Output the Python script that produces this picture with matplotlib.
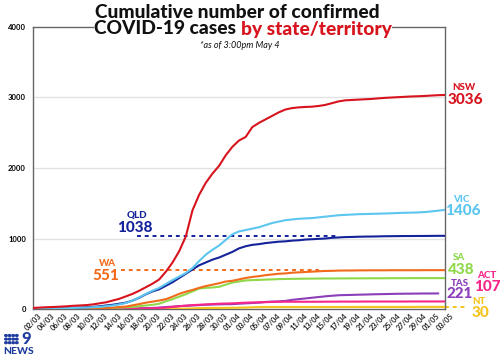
import numpy as np
import matplotlib
matplotlib.use("Agg")
import matplotlib.pyplot as plt
from matplotlib.patches import Circle

# ---- data (day 0 = 02/03 ... day 62 = 03/05) ----
tick_labels = ["02/03", "04/03", "06/03", "08/03", "10/03", "12/03", "14/03", "16/03",
               "18/03", "20/03", "22/03", "24/03", "26/03", "28/03", "30/03", "01/04",
               "03/04", "05/04", "07/04", "09/04", "11/04", "13/04", "15/04", "17/04",
               "19/04", "21/04", "23/04", "25/04", "27/04", "29/04", "01/05", "03/05"]

nsw = [15, 20, 25, 28, 33, 38, 45, 50, 55, 65, 80, 95, 120, 145, 180, 215, 260, 310, 360, 420,
       530, 660, 820, 1030, 1400, 1620, 1790, 1920, 2030, 2180, 2300, 2390, 2440, 2580, 2640,
       2690, 2740, 2790, 2830, 2850, 2860, 2866, 2870, 2880, 2895, 2920, 2945, 2960, 2965, 2970,
       2975, 2980, 2988, 2995, 3000, 3005, 3010, 3015, 3018, 3022, 3028, 3033, 3036]
vic = [9, 10, 10, 11, 11, 12, 15, 18, 21, 25, 30, 40, 50, 65, 85, 120, 165, 215, 260, 300,
       355, 410, 460, 510, 580, 680, 770, 840, 900, 980, 1060, 1100, 1120, 1140, 1160, 1190,
       1220, 1240, 1260, 1270, 1280, 1285, 1290, 1300, 1310, 1320, 1330, 1335, 1340, 1345,
       1347, 1350, 1352, 1355, 1358, 1362, 1365, 1367, 1370, 1375, 1385, 1395, 1406]
qld = [9, 10, 11, 13, 15, 15, 18, 20, 25, 30, 38, 50, 60, 75, 90, 120, 160, 210, 250, 280,
       330, 380, 440, 500, 560, 620, 660, 700, 730, 770, 810, 860, 890, 910, 920, 935, 945,
       955, 960, 970, 975, 985, 990, 995, 1000, 1010, 1015, 1020, 1022, 1025, 1027, 1028,
       1030, 1032, 1033, 1034, 1035, 1035, 1036, 1036, 1037, 1038, 1038]
wa = [2, 2, 3, 3, 3, 3, 4, 4, 5, 8, 9, 14, 18, 28, 35, 52, 70, 90, 105, 120, 140, 175, 215,
      245, 270, 300, 325, 345, 365, 390, 400, 420, 440, 455, 465, 480, 490, 500, 505, 515,
      520, 525, 530, 535, 540, 541, 545, 546, 546, 548, 548, 549, 549, 549, 550, 550, 550,
      550, 550, 551, 551, 551, 551]
sa = [1, 1, 2, 2, 2, 3, 3, 3, 4, 4, 5, 8, 15, 20, 25, 30, 40, 50, 60, 75, 110, 140, 175, 210,
      250, 290, 300, 305, 315, 345, 375, 390, 405, 410, 413, 417, 420, 424, 426, 428, 429,
      430, 431, 432, 433, 433, 434, 434, 435, 435, 435, 436, 436, 436, 437, 437, 437, 438,
      438, 438, 438, 438, 438]
tas = [0, 0, 0, 0, 0, 0, 0, 1, 1, 1, 1, 2, 2, 4, 6, 7, 10, 12, 15, 20, 28, 33, 40, 45, 50,
       55, 60, 63, 66, 68, 69, 75, 80, 85, 90, 100, 105, 108, 115, 130, 140, 150, 160, 170,
       180, 188, 195, 198, 200, 203, 205, 208, 210, 212, 214, 216, 217, 218, 219, 220, 220,
       221, np.nan]
act = [0, 0, 0, 0, 0, 0, 0, 0, 0, 0, 1, 1, 2, 2, 3, 4, 6, 8, 10, 15, 20, 30, 40, 48, 55, 60,
       65, 70, 75, 78, 80, 85, 90, 93, 95, 97, 100, 102, 103, 103, 103, 103, 103, 103, 104,
       104, 105, 105, 105, 105, 106, 106, 106, 106, 106, 106, 106, 107, 107, 107, 107, 107, 107]
nt = [0, 0, 0, 0, 0, 0, 0, 0, 0, 0, 0, 0, 0, 0, 0, 0, 0, 0, 1, 2, 3, 4, 5, 6, 8, 12, 14, 15,
      15, 16, 17, 19, 21, 24, 27, 28, 28, 28, 28, 28, 28, 28, 28, 28, 28, 28, 28, 28, 29, 29,
      29, 29, 29, 29, 29, 29, 29, 29, 30, 30, 30, 30, 30]

series = [
    ("TAS", tas, "#8b3fb8"),
    ("NT", nt, "#f4c41c"),
    ("ACT", act, "#f7268a"),
    ("SA", sa, "#8ed84a"),
    ("WA", wa, "#f26a1b"),
    ("QLD", qld, "#14239a"),
    ("VIC", vic, "#5cc6ef"),
    ("NSW", nsw, "#d7141e"),
]
colors = {n: c for n, _, c in series}
finals = {"NSW": 3036, "VIC": 1406, "QLD": 1038, "WA": 551, "SA": 438, "TAS": 221,
          "ACT": 107, "NT": 30}

FONT = "Lato"
plt.rcParams["font.family"] = [FONT, "DejaVu Sans"]

fig = plt.figure(figsize=(5.0, 3.63), dpi=100)
ax = fig.add_axes([33 / 500, 54 / 363, 412 / 500, 282 / 363])

days = np.arange(len(nsw))
for name, vals, col in series:
    ax.plot(days, vals, color=col, lw=1.5, solid_capstyle="round", zorder=3)

ax.set_xlim(0, 62)
ax.set_ylim(0, 4000)
ax.set_yticks([0, 1000, 2000, 3000, 4000])
ax.set_yticklabels(["0", "1000", "2000", "3000", "4000"], fontsize=5.5, fontweight="bold")
ax.set_xticks(np.arange(0, 63, 2))
ax.set_xticklabels(tick_labels, rotation=45, fontsize=5.3, fontweight="bold", color="#222222")
ax.tick_params(length=0, pad=5)
ax.tick_params(axis="x", pad=2)
for y in [1000, 2000, 3000]:
    ax.axhline(y, color="#e2e2e2", lw=1.0, zorder=1)
for s in ax.spines.values():
    s.set_color("#666666")
    s.set_linewidth(1.0)

# dashed reference lines for QLD and WA
ax.plot([15.6, 46], [finals["QLD"]] * 2, color=colors["QLD"], lw=1.4, ls=(0, (2, 2)), zorder=2)
ax.plot([13.2, 43], [finals["WA"]] * 2, color=colors["WA"], lw=1.4, ls=(0, (2, 2)), zorder=2)
ax.plot([62, 65.5], [finals["NT"]] * 2, color=colors["NT"], lw=1.4, ls=(0, (2, 2)),
        zorder=2, clip_on=False)

# QLD / WA labels on the left
ax.text(15.6, 1330, "QLD", color=colors["QLD"], fontsize=7, fontweight="black", ha="center", va="center")
ax.text(15.4, 1150, "1038", color=colors["QLD"], fontsize=11, fontweight="black", ha="center", va="center")
ax.text(11.2, 650, "WA", color=colors["WA"], fontsize=7, fontweight="black", ha="center", va="center")
ax.text(11.0, 475, "551", color=colors["WA"], fontsize=11, fontweight="black", ha="center", va="center")

# right-hand labels (figure pixel coords)
def flabel(x, y, txt, col, size):
    fig.text(x / 500, 1 - y / 363, txt, color=col, fontsize=size, fontweight="black",
             ha="center", va="center")

flabel(464, 87, "NSW", colors["NSW"], 7)
flabel(465, 100, "3036", colors["NSW"], 11)
flabel(461, 199, "VIC", colors["VIC"], 7)
flabel(463, 211, "1406", colors["VIC"], 11)
flabel(459, 258, "SA", colors["SA"], 7)
flabel(461, 270, "438", colors["SA"], 11)
flabel(460, 283, "TAS", colors["TAS"], 7)
flabel(460, 294, "221", colors["TAS"], 11)
flabel(487, 275, "ACT", colors["ACT"], 7)
flabel(487, 287, "107", colors["ACT"], 11)
flabel(479, 302, "NT", colors["NT"], 7)
flabel(480, 313, "30", colors["NT"], 11)

# title
fig.text(237 / 500, 1 - 13 / 363, "Cumulative number of confirmed", fontsize=13.8,
         fontweight="black", ha="center", va="center", color="#111111")
fig.text(241 / 500, 1 - 29 / 363, "COVID-19 cases ", fontsize=13.8, fontweight="black",
         ha="right", va="center", color="#111111",
         bbox=dict(facecolor="white", edgecolor="none", pad=0.3))
fig.text(241 / 500, 1 - 29 / 363, "by state/territory", fontsize=13.8, fontweight="black",
         ha="left", va="center", color="#d7141e",
         bbox=dict(facecolor="white", edgecolor="none", pad=0.3))
fig.text(240 / 500, 1 - 46 / 363, "*as of 3:00pm May 4", fontsize=6.5, style="italic",
         ha="center", va="center", color="#111111")

# 9NEWS logo
blue = "#1e3c9e"
for r in range(3):
    for c in range(4):
        fig.patches.append(Circle(((6.0 + c * 3.6) / 500, 1 - (335.5 + r * 3.6) / 363),
                                  1.25 / 500, transform=fig.transFigure, color=blue))
fig.text(26.5 / 500, 1 - 339.5 / 363, "9", fontsize=12, fontweight="black", color=blue,
         ha="center", va="center")
fig.text(18.5 / 500, 1 - 351.5 / 363, "NEWS", fontsize=7.5, fontweight="black", color=blue,
         ha="center", va="center")

fig.savefig("out.png", dpi=100)
